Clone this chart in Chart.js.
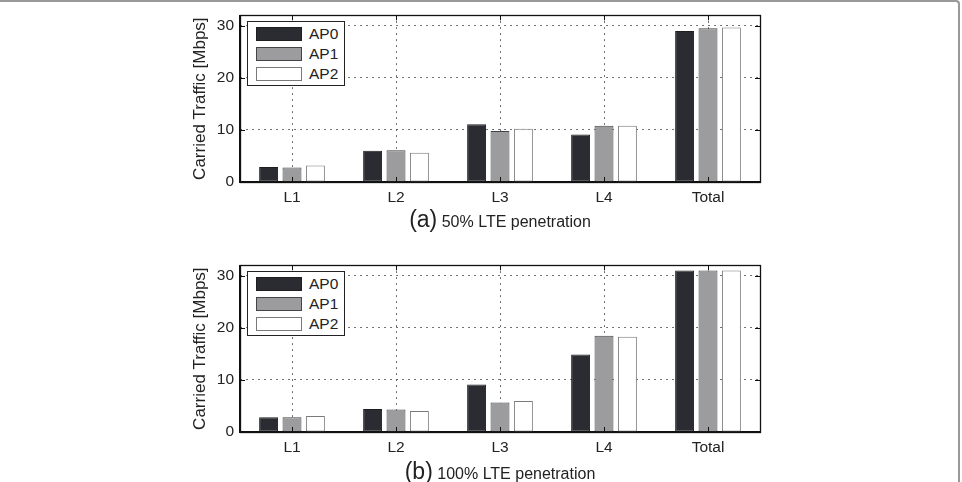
<!DOCTYPE html>
<html>
<head>
<meta charset="utf-8">
<script src="https://cdn.jsdelivr.net/npm/chart.js@4.4.0/dist/chart.umd.min.js"></script>
<style>
  html, body { margin: 0; padding: 0; background: #fff; }
  body { width: 962px; height: 482px; position: relative; overflow: hidden; font-family: "Liberation Sans", Arial, sans-serif; }
  .frame { position: absolute; left: -4px; top: 0; width: 964px; height: 490px; border-top: 2px solid #999; border-right: 2px solid #999; border-top-right-radius: 4px; box-sizing: border-box; pointer-events: none; }
  .wrap { position: absolute; left: 0; width: 962px; }
  .legend { position: absolute; background: #fff; border: 1.5px solid #222; box-sizing: border-box; }
  .legend .row { position: absolute; left: 8px; height: 14px; }
  .legend .sw { position: absolute; left: 0; top: 0; width: 46px; height: 14px; box-sizing: border-box; }
  .legend .lb { position: absolute; left: 53px; top: -3px; font-size: 15.5px; color: #222; white-space: nowrap; line-height: 20px; }
  .caption { position: absolute; left: 240px; width: 520px; text-align: center; color: #222; white-space: nowrap; }
  .caption .big { font-size: 23px; }
  .caption .small { font-size: 16px; }
</style>
</head>
<body>
<div class="frame"></div>
<div class="wrap" style="top:0;height:241px;"><canvas id="c1" width="962" height="241"></canvas></div>
<div class="wrap" style="top:250px;height:232px;"><canvas id="c2" width="962" height="232"></canvas></div>
<div class="legend" id="lg1" style="left:247px;top:21px;width:98px;height:65px;"></div>
<div class="legend" id="lg2" style="left:247px;top:271px;width:98px;height:65px;"></div>
<div class="caption" style="top:206px;"><span class="big">(a)</span> <span class="small">50% LTE penetration</span></div>
<div class="caption" style="top:458px;"><span class="big">(b)</span> <span class="small">100% LTE penetration</span></div>
<script>
const categories = ["L1", "L2", "L3", "L4", "Total"];
const seriesNames = ["AP0", "AP1", "AP2"];
const yTicks = [0, 10, 20, 30];
const yAxisTitle = "Carried Traffic [Mbps]";

// (a) 50% LTE penetration
const ap0_50 = [2.9, 6.0, 11.1, 9.1, 29.0];
const ap1_50 = [2.8, 6.1, 9.8, 10.8, 29.5];
const ap2_50 = [3.15, 5.6, 10.2, 10.8, 29.65];

// (b) 100% LTE penetration
const ap0_100 = [2.85, 4.4, 9.1, 14.9, 31.0];
const ap1_100 = [2.85, 4.3, 5.65, 18.5, 31.0];
const ap2_100 = [3.05, 4.05, 5.95, 18.3, 31.0];

const fills = ["#2b2c31", "#9c9c9e", "#ffffff"];
const borders = ["#1e1e22", "#444444", "#7a7a7a"];
const FONT = "'Liberation Sans', Arial, sans-serif";

const frameTicks = {
  id: 'frameTicks',
  afterDraw(chart) {
    const ctx = chart.ctx, a = chart.chartArea;
    const xs = chart.scales.x, ys = chart.scales.y;
    ctx.save();
    ctx.strokeStyle = '#111';
    ctx.lineWidth = 1;
    ctx.setLineDash([]);
    ctx.beginPath();
    const L = 5;
    xs.ticks.forEach((t, i) => {
      const x = Math.round(xs.getPixelForTick(i)) + 0.5;
      ctx.moveTo(x, a.bottom); ctx.lineTo(x, a.bottom - L);
      ctx.moveTo(x, a.top); ctx.lineTo(x, a.top + L);
    });
    ys.ticks.forEach(t => {
      const y = Math.round(ys.getPixelForValue(t.value)) + 0.5;
      ctx.moveTo(a.left, y); ctx.lineTo(a.left + L, y);
      ctx.moveTo(a.right, y); ctx.lineTo(a.right - L, y);
    });
    ctx.stroke();
    ctx.lineWidth = 1.3;
    ctx.strokeRect(Math.round(a.left) + 0.5, Math.round(a.top) + 0.5, Math.round(a.right - a.left), Math.round(a.bottom - a.top));
    ctx.restore();
  }
};

function makeChart(id, values, padBottom) {
  const datasets = values.map((v, i) => ({
    label: seriesNames[i],
    data: v,
    backgroundColor: fills[i],
    borderColor: borders[i],
    borderWidth: 1,
    borderSkipped: false,
    categoryPercentage: 0.675,
    barPercentage: 0.81
  }));
  return new Chart(document.getElementById(id), {
    type: 'bar',
    data: { labels: categories, datasets },
    plugins: [frameTicks],
    options: {
      responsive: false,
      animation: false,
      devicePixelRatio: 1,
      layout: { padding: { left: 190, right: 202, top: 14, bottom: padBottom } },
      plugins: { legend: { display: false }, tooltip: { enabled: false } },
      scales: {
        x: {
          offset: true,
          grid: { offset: false, drawTicks: false, color: '#444', lineWidth: 1 },
          border: { display: true, color: '#111', width: 1.3, dash: [1.5, 4.5] },
          ticks: { padding: 6, color: '#222', font: { family: FONT, size: 15.5 } },
          afterFit(s) { s.height = 30; }
        },
        y: {
          min: 0, max: 32,
          afterBuildTicks(s) { s.ticks = yTicks.map(v => ({ value: v })); },
          grid: { drawTicks: false, color: (c) => c.tick && c.tick.value === 0 ? 'rgba(0,0,0,0)' : '#444', lineWidth: 1 },
          border: { display: true, color: '#111', width: 1.3, dash: [1.5, 4.5] },
          ticks: { padding: 6, color: '#222', font: { family: FONT, size: 15.5 } },
          title: { display: true, text: yAxisTitle, color: '#222', font: { family: FONT, size: 17 }, padding: { top: 0, bottom: 0 } },
          afterFit(s) { s.width = 50; }
        }
      }
    }
  });
}

makeChart('c1', [ap0_50, ap1_50, ap2_50], 29);
makeChart('c2', [ap0_100, ap1_100, ap2_100], 20);

function buildLegend(elId) {
  const el = document.getElementById(elId);
  seriesNames.forEach((name, i) => {
    const row = document.createElement('div');
    row.className = 'row';
    row.style.top = (5 + i * 20) + 'px';
    const sw = document.createElement('div');
    sw.className = 'sw';
    sw.style.background = fills[i];
    sw.style.border = '1.5px solid ' + borders[i];
    const lb = document.createElement('div');
    lb.className = 'lb';
    lb.textContent = name;
    row.appendChild(sw); row.appendChild(lb);
    el.appendChild(row);
  });
}
buildLegend('lg1');
buildLegend('lg2');
</script>
</body>
</html>
